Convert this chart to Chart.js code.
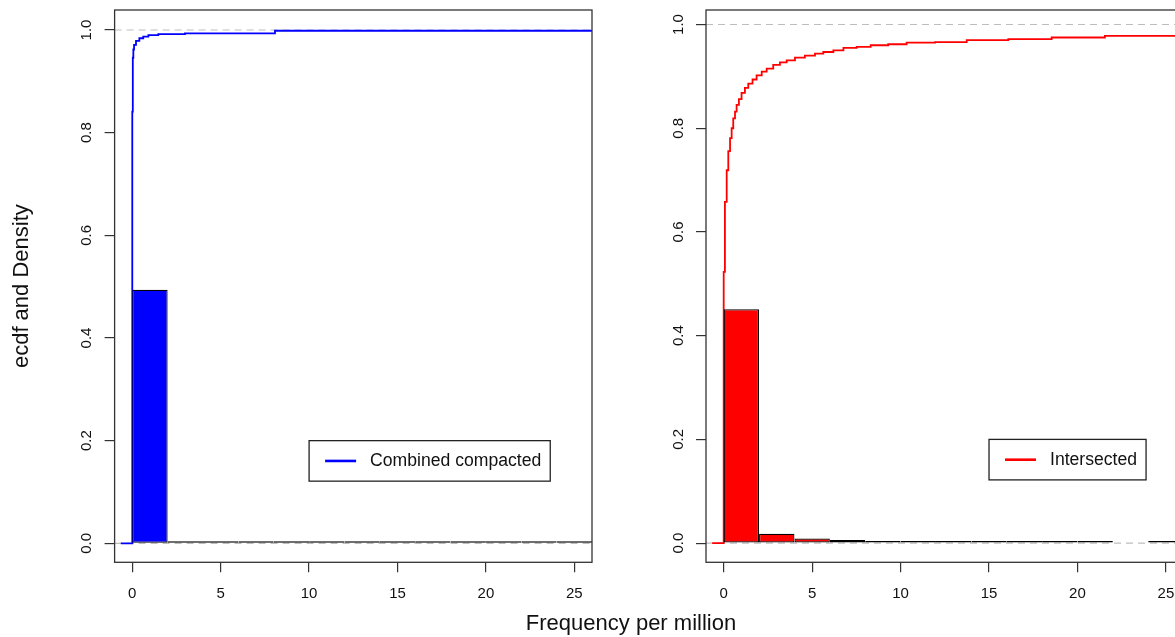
<!DOCTYPE html>
<html><head><meta charset="utf-8">
<script src="https://cdn.jsdelivr.net/npm/chart.js@4.4.0/dist/chart.umd.min.js"></script>
<style>
html,body{margin:0;padding:0;background:#fff;}
#wrap{position:relative;width:1175px;height:637px;overflow:hidden;background:#fff;}
canvas{position:absolute;top:0;}
#xt{position:absolute;left:0;width:1262px;text-align:center;top:612px;height:24px;line-height:22px;font-size:22px;font-family:"Liberation Sans",Arial,sans-serif;color:#111;white-space:nowrap;}
</style></head><body>
<div id="wrap">
<canvas id="c1" width="600" height="637" style="left:0"></canvas>
<canvas id="c2" width="600" height="637" style="left:600px"></canvas>
<div id="xt">Frequency per million</div>
</div>
<script>
// ---- data ----
const binCenters = [1, 3, 5, 7, 9, 11, 13, 15, 17, 19, 21, 23, 25];
const densCombined = [0.494, 0.004, 0.0005, 0.0005, 0.0005, 0.0005, 0.0005, 0.0005, 0.0005, 0.0005, 0.0005, 0.0005, 0.0005];
const densIntersected = [0.451, 0.018, 0.009, 0.006, 0.0025, 0.0025, 0.0025, 0.0025, 0.0025, 0.0025, 0.0025, null, 0.002];

const ecdfCombinedX = [-0.65, 0, 0.03, 0.06, 0.1, 0.21, 0.4, 0.62, 0.91, 1.47, 2.98, 8.07, 26];
const ecdfCombinedY = [0, 0.841, 0.946, 0.962, 0.971, 0.979, 0.984, 0.987, 0.990, 0.992, 0.9936, 0.9986, 0.9986];

const ecdfIntersectedX = [-0.65, 0, 0.07, 0.17, 0.26, 0.36, 0.45, 0.54, 0.64, 0.73, 0.86, 1.01, 1.2, 1.39, 1.63, 1.86, 2.15, 2.43, 2.8, 3.18, 3.56, 4.03, 4.59, 5.16, 5.63, 6.2, 6.77, 7.52, 8.31, 9.3, 10.34, 11.95, 13.74, 16.09, 18.54, 21.55, 26];
const ecdfIntersectedY = [0, 0.523, 0.658, 0.719, 0.756, 0.781, 0.800, 0.819, 0.832, 0.845, 0.856, 0.868, 0.878, 0.886, 0.894, 0.902, 0.909, 0.915, 0.922, 0.927, 0.931, 0.936, 0.940, 0.944, 0.947, 0.950, 0.955, 0.957, 0.960, 0.962, 0.965, 0.966, 0.970, 0.972, 0.975, 0.978, 0.978];

const xTicks = [0, 5, 10, 15, 20, 25];
const yTicks = [0, 0.2, 0.4, 0.6, 0.8, 1.0];
const refLines = [0, 1];
const seriesNames = ['Combined compacted', 'Intersected'];
const yTitle = 'ecdf and Density';
const legendAt = [[10, 0.2], [15, 0.2]];

// ---- drawing ----
const FONT = '"Liberation Sans", Arial, sans-serif';

const rPlugin = {
  id: 'rframe',
  beforeDatasetsDraw(chart) {
    const {ctx, chartArea: a, scales: {y}} = chart;
    ctx.save();
    ctx.beginPath(); ctx.rect(a.left, a.top, a.width, a.height); ctx.clip();
    ctx.strokeStyle = '#bdbdbd'; ctx.lineWidth = 1.2; ctx.setLineDash([7, 5]);
    refLines.forEach(v => {
      const py = y.getPixelForValue(v);
      ctx.beginPath(); ctx.moveTo(a.left, py); ctx.lineTo(a.right, py); ctx.stroke();
    });
    ctx.restore();
  },
  afterDraw(chart, args, opts) {
    const {ctx, chartArea: a, scales: {x, y}} = chart;
    ctx.save();
    ctx.strokeStyle = '#333'; ctx.lineWidth = 1.3;
    ctx.strokeRect(a.left, a.top, a.width, a.height);
    // legend
    ctx.font = '17.6px ' + FONT;
    const tw = ctx.measureText(opts.label).width;
    const lx = x.getPixelForValue(opts.at[0]);
    const ly = y.getPixelForValue(opts.at[1]);
    const w = 61 + tw + 9, h = 40.5;
    ctx.fillStyle = '#fff'; ctx.fillRect(lx, ly, w, h);
    ctx.strokeStyle = '#222'; ctx.lineWidth = 1.3; ctx.strokeRect(lx, ly, w, h);
    ctx.strokeStyle = opts.color; ctx.lineWidth = 2.6;
    ctx.beginPath(); ctx.moveTo(lx + 16, ly + 20.3); ctx.lineTo(lx + 47, ly + 20.3); ctx.stroke();
    ctx.fillStyle = '#111'; ctx.textBaseline = 'middle'; ctx.textAlign = 'left';
    ctx.fillText(opts.label, lx + 61, ly + 20.7);
    ctx.restore();
  }
};

function makeChart(id, dens, ex, ey, color, label, at, yMax, yAxisWidth, padRight, showTitle) {
  return new Chart(document.getElementById(id), {
    type: 'line',
    data: {
      datasets: [
        {
          type: 'bar', label: label + ' density',
          data: binCenters.map((c, i) => ({x: c, y: dens[i]})),
          backgroundColor: color, borderColor: '#000', borderWidth: 1.2,
          borderSkipped: false, minBarLength: 2, inflateAmount: 0,
          barPercentage: 1, categoryPercentage: 1, order: 1
        },
        {
          type: 'line', label: label,
          data: ex.map((v, i) => ({x: v, y: ey[i]})),
          stepped: true, borderColor: color, borderWidth: 1.8,
          pointRadius: 0, fill: false, order: 2
        }
      ]
    },
    options: {
      responsive: false, animation: false, events: [],
      layout: {padding: {left: 0, right: padRight, top: 10, bottom: 0}},
      plugins: {
        legend: {display: false}, tooltip: {enabled: false},
        rframe: {label: label, color: color, at: at}
      },
      scales: {
        x: {
          type: 'linear', min: -1, max: 26, offset: false,
          grid: {drawOnChartArea: false, drawTicks: true, tickLength: 10, color: '#333', lineWidth: 1.2, offset: false},
          border: {display: false},
          afterBuildTicks: s => { s.ticks = xTicks.map(v => ({value: v})); },
          afterFit: s => { s.height = 74.7; s.paddingLeft = 0; s.paddingRight = 0; },
          ticks: {font: {size: 15, family: FONT}, color: '#111', padding: 13, autoSkip: false, maxRotation: 0, minRotation: 0}
        },
        y: {
          type: 'linear', min: -0.037, max: yMax,
          grid: {drawOnChartArea: false, drawTicks: true, tickLength: 10, color: '#333', lineWidth: 1.2},
          border: {display: false},
          afterBuildTicks: s => { s.ticks = yTicks.map(v => ({value: v})); },
          afterFit: s => { s.width = yAxisWidth; s.paddingTop = 0; s.paddingBottom = 0; },
          ticks: {font: {size: 15, family: FONT}, color: '#111', padding: 7, autoSkip: false,
                  minRotation: 90, maxRotation: 90, crossAlign: 'center',
                  callback: v => Number(v).toFixed(1)},
          title: {display: showTitle, text: yTitle, font: {size: 22, family: FONT}, color: '#111', padding: {top: 8.8, bottom: 0}}
        }
      }
    },
    plugins: [rPlugin]
  });
}

makeChart('c1', densCombined, ecdfCombinedX, ecdfCombinedY, '#0000ff', seriesNames[0], legendAt[0], 1.039, 114.6, 8, true);
makeChart('c2', densIntersected, ecdfIntersectedX, ecdfIntersectedY, '#ff0000', seriesNames[1], legendAt[1], 1.028, 106, 16.4, false);
</script>
</body></html>
